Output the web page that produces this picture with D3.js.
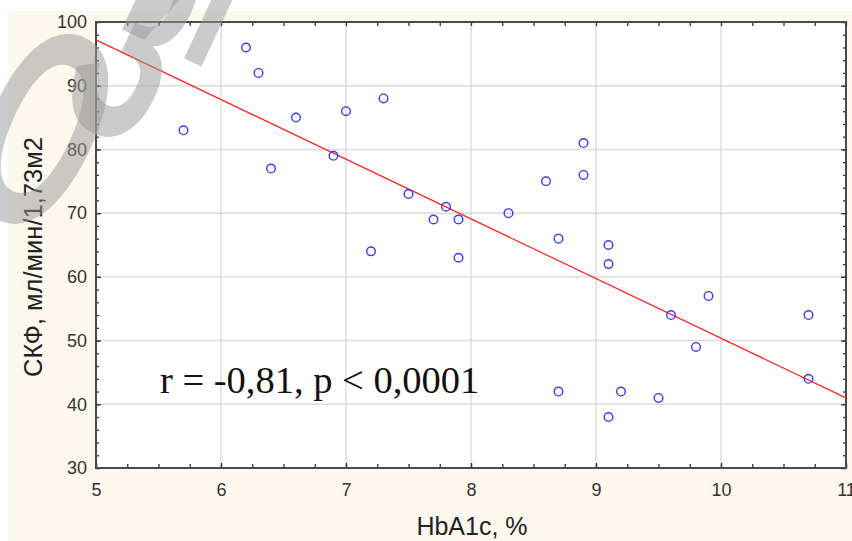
<!DOCTYPE html>
<html><head><meta charset="utf-8">
<script src="https://cdn.jsdelivr.net/npm/d3@7/dist/d3.min.js"></script>
<style>html,body{margin:0;padding:0;background:#fff;}svg{display:block;}</style>
</head><body>
<svg id="chart" width="852" height="541"></svg>
<script>
// ---- data ----
const hba1c = [5.7, 6.2, 6.3, 6.4, 6.6, 6.9, 7.0, 7.2, 7.3, 7.5, 7.7, 7.8, 7.9, 7.9, 8.3, 8.6, 8.7, 8.7, 8.9, 8.9, 9.1, 9.1, 9.1, 9.2, 9.5, 9.6, 9.8, 9.9, 10.7, 10.7];
const gfr   = [83, 96, 92, 77, 85, 79, 86, 64, 88, 73, 69, 71, 69, 63, 70, 75, 66, 42, 81, 76, 65, 62, 38, 42, 41, 54, 49, 57, 54, 44];
const fitX = [5, 11];
const fitY = [97.2, 41.0];
const xTicks = [5, 6, 7, 8, 9, 10, 11];
const yTicks = [30, 40, 50, 60, 70, 80, 90, 100];
const xTitle = "HbA1c, %";
const yTitle = "СКФ, мл/мин/1,73м2";
const annotation = "r = -0,81, p < 0,0001";
const watermarkLetters = ["О", "З", "И"];

// ---- layout ----
const svg = d3.select("#chart");
const L = 96, R = 846, T = 22, B = 468;
const x = d3.scaleLinear().domain([5, 11]).range([L, R]);
const y = d3.scaleLinear().domain([30, 100]).range([B, T]);
const SANS = "'Liberation Sans', Arial, sans-serif";

svg.append("rect").attr("x", 8).attr("y", 11).attr("width", 852 - 8).attr("height", 541 - 11).attr("fill", "#fdf8ee");
svg.append("rect").attr("x", L).attr("y", T).attr("width", R - L).attr("height", B - T).attr("fill", "#fff");

// grid
const grid = svg.append("g");
grid.selectAll("line.gx").data(xTicks.slice(1, -1)).join("line")
  .attr("x1", d => x(d)).attr("x2", d => x(d)).attr("y1", T).attr("y2", B)
  .attr("stroke", "#dcdcdc").attr("stroke-width", 1.5);
grid.selectAll("line.gy").data(yTicks.slice(1, -1)).join("line")
  .attr("y1", d => y(d)).attr("y2", d => y(d)).attr("x1", L).attr("x2", R)
  .attr("stroke", "#dcdcdc").attr("stroke-width", 1.5);

// axes
const xMinor = d3.range(5, 11.001, 0.25);
const yMinor = d3.range(30, 100.001, 2);
const fmt = d3.format("d");
function styleAxis(g) {
  g.select(".domain").remove();
  g.selectAll(".tick line").attr("stroke", "#333").attr("stroke-width", 1.3);
  g.selectAll(".tick text").attr("fill", "#333").style("font-family", SANS).style("font-size", "18px");
}
svg.append("g").attr("transform", `translate(0,${B})`)
  .call(d3.axisBottom(x).tickValues(xMinor).tickSize(-4).tickFormat(""))
  .call(styleAxis);
svg.append("g").attr("transform", `translate(0,${B})`)
  .call(d3.axisBottom(x).tickValues(xTicks).tickSize(-5).tickPadding(15).tickFormat(fmt))
  .call(styleAxis);
svg.append("g").attr("transform", `translate(0,${T})`)
  .call(d3.axisTop(x).tickValues(xMinor).tickSize(-4).tickFormat(""))
  .call(styleAxis);
svg.append("g").attr("transform", `translate(${L},0)`)
  .call(d3.axisLeft(y).tickValues(yMinor).tickSize(-3).tickFormat(""))
  .call(styleAxis);
svg.append("g").attr("transform", `translate(${L},0)`)
  .call(d3.axisLeft(y).tickValues(yTicks).tickSize(-5).tickPadding(9).tickFormat(fmt))
  .call(styleAxis);
svg.append("g").attr("transform", `translate(${R},0)`)
  .call(d3.axisRight(y).tickValues(yMinor).tickSize(-3).tickFormat(""))
  .call(styleAxis);
svg.append("g").attr("transform", `translate(${R},0)`)
  .call(d3.axisRight(y).tickValues(yTicks).tickSize(-5).tickFormat(""))
  .call(styleAxis);

// frame
svg.append("rect").attr("x", L).attr("y", T).attr("width", R - L).attr("height", B - T)
  .attr("fill", "none").attr("stroke", "#4a4a4a").attr("stroke-width", 2);

// regression line
svg.append("line")
  .attr("x1", x(fitX[0])).attr("y1", y(fitY[0])).attr("x2", x(fitX[1])).attr("y2", y(fitY[1]))
  .attr("stroke", "#ff2020").attr("stroke-width", 1.2);

// points
svg.append("g").selectAll("circle").data(hba1c.map((v, i) => [v, gfr[i]])).join("circle")
  .attr("cx", d => x(d[0])).attr("cy", d => y(d[1])).attr("r", 4.3)
  .attr("fill", "none").attr("stroke", "#3a3aff").attr("stroke-width", 1.4);

// annotation
svg.append("text").attr("x", 160).attr("y", 393)
  .style("font-family", "'Liberation Serif', 'Times New Roman', serif").style("font-size", "38.5px")
  .attr("fill", "#111").text(annotation);

// axis titles
svg.append("text").attr("x", 472).attr("y", 535).attr("text-anchor", "middle")
  .style("font-family", SANS).style("font-size", "25px").attr("fill", "#222")
  .text(xTitle);
svg.append("text").attr("transform", "translate(42,257) rotate(-90)").attr("text-anchor", "middle")
  .style("font-family", SANS).style("font-size", "25.5px").attr("fill", "#222")
  .text(yTitle);

// watermark letters (big, rotated, translucent grey)
const wmPos = [[44, 125], [138, 38], [205, -45]];
svg.append("g").selectAll("text").data(watermarkLetters).join("text")
  .attr("transform", (d, i) => `translate(${wmPos[i][0]},${wmPos[i][1]}) rotate(25) scale(1,1.9)`)
  .attr("text-anchor", "middle").attr("dy", "0.36em")
  .style("font-family", SANS).style("font-size", "150px").style("font-weight", "bold")
  .attr("fill", "#999").attr("opacity", 0.5).text(d => d);
</script>
</body></html>
